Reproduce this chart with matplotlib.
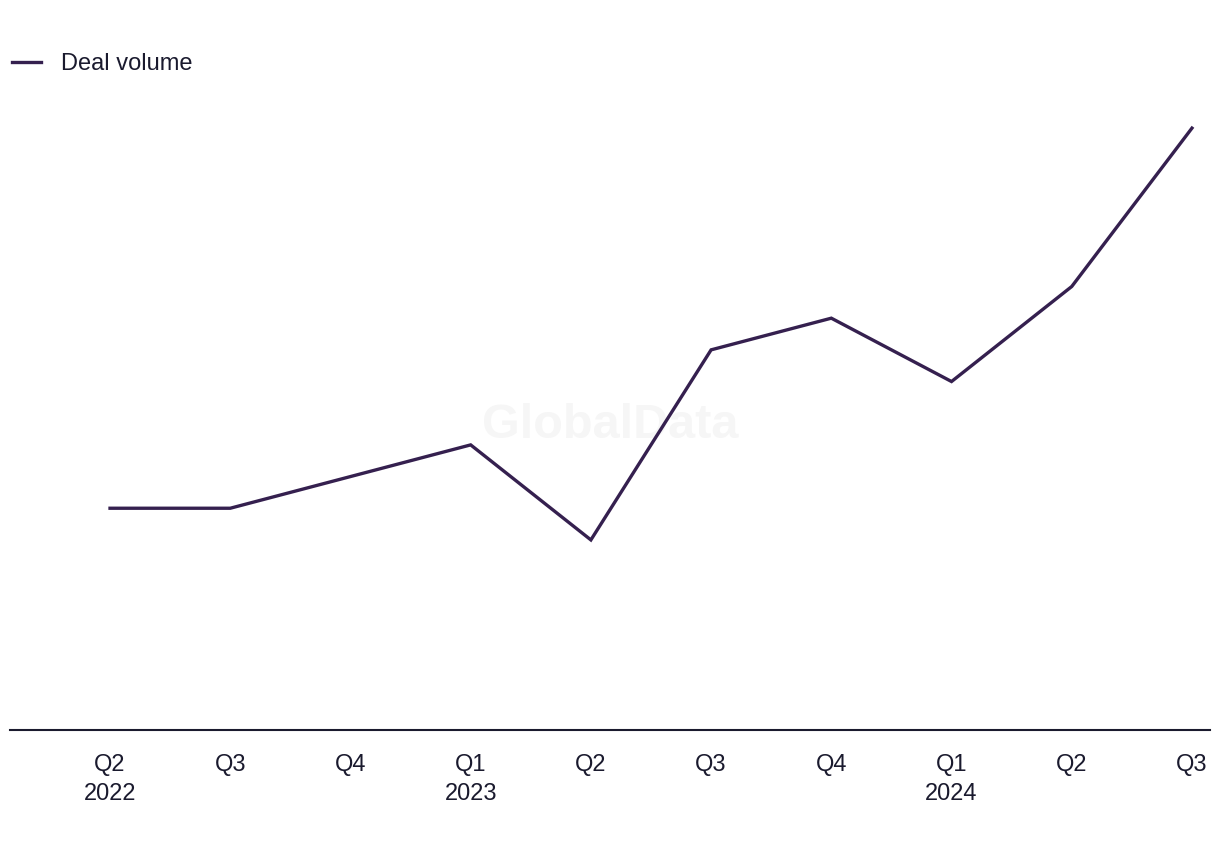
import matplotlib.pyplot as plt

# Quarterly deal volume
quarters = ["Q2\n2022", "Q3", "Q4", "Q1\n2023", "Q2", "Q3", "Q4", "Q1\n2024", "Q2", "Q3"]
deal_volume = [7, 7, 8, 9, 6, 12, 13, 11, 14, 19]

LINE_COLOR = "#35204f"
AXIS_COLOR = "#1a1a2e"

plt.rcParams['font.family'] = ['Liberation Sans', 'DejaVu Sans']

fig = plt.figure(figsize=(12.2, 8.5), dpi=100)
ax = fig.add_axes([0.0082, 0.1412, 0.9836, 0.7528])

x = list(range(len(quarters)))
ax.plot(x, deal_volume, color=LINE_COLOR, linewidth=2.4, label="Deal volume",
        solid_joinstyle="miter")

ax.set_xlim(-0.832, 9.15)
ax.set_ylim(0, 20.2)

for side in ["top", "right", "left"]:
    ax.spines[side].set_visible(False)
ax.spines["bottom"].set_color(AXIS_COLOR)
ax.spines["bottom"].set_linewidth(1.5)

ax.set_yticks([])
ax.set_xticks(x)
ax.set_xticklabels(quarters, fontsize=17, color=AXIS_COLOR, linespacing=1.45)
ax.tick_params(axis="x", length=0, pad=17)

# watermark
ax.text(0.5, 0.5, "GlobalData", transform=fig.transFigure, ha="center", va="center",
        fontsize=35, fontweight="bold", color="#f6f6f6", zorder=0)

leg = fig.legend(loc="upper left", bbox_to_anchor=(0.002, 0.949), frameon=False,
                 fontsize=17, handlelength=1.25, handletextpad=0.85, borderaxespad=0.0)
for t in leg.get_texts():
    t.set_color(AXIS_COLOR)

fig.savefig("out.png", dpi=100)
